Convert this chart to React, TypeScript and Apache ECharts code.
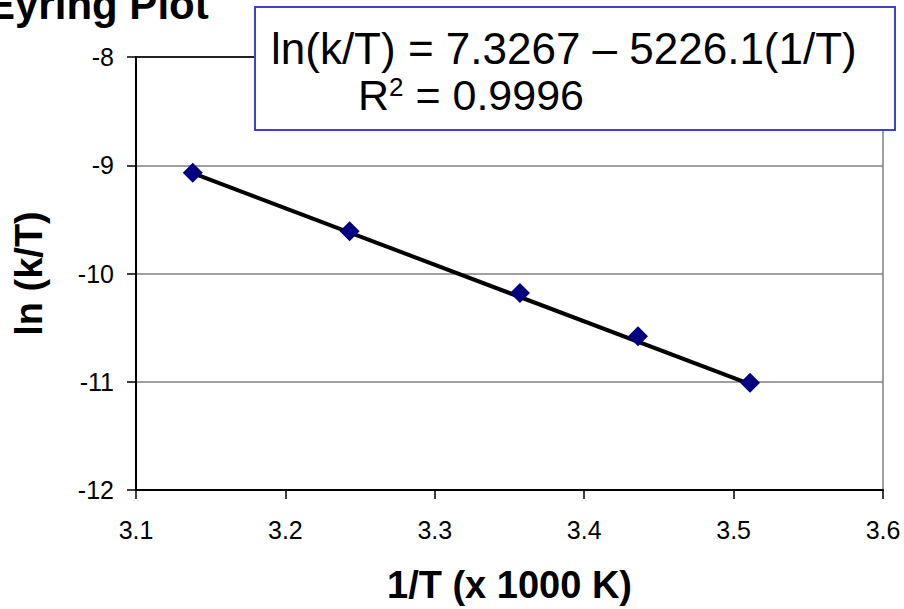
import React, { useEffect, useRef } from "react";
import * as echarts from "echarts";

const invT = [3.138, 3.243, 3.357, 3.436, 3.511];
const lnKT = [-9.07, -9.61, -10.18, -10.58, -11.01];
const trendX = [3.138, 3.511];
const trendY = [-9.073, -11.022];
const titleText = "Eyring Plot";
const equationText = "ln(k/T) = 7.3267 – 5226.1(1/T)";
const r2Text = "0.9996";
const xName = "1/T (x 1000 K)";
const yName = "ln (k/T)";

const FONT = "'Liberation Sans', Arial, sans-serif";

export default function App() {
  const ref = useRef<HTMLDivElement>(null);
  useEffect(() => {
    if (!ref.current) return;
    const chart = echarts.init(ref.current, null, { renderer: "svg" });
    chart.setOption({
      animation: false,
      backgroundColor: "#ffffff",
      grid: {
        left: 136,
        right: 21,
        top: 57,
        bottom: 118,
        show: true,
        borderColor: "#808080",
        borderWidth: 1.5,
      },
      xAxis: [
        {
          type: "value",
          min: 3.1,
          max: 3.6,
          interval: 0.1,
          name: xName,
          nameLocation: "middle",
          nameGap: 76,
          nameTextStyle: { fontFamily: FONT, fontWeight: "bold", fontSize: 38, color: "#000" },
          axisLine: { show: true, onZero: false, lineStyle: { color: "#000", width: 2 } },
          axisTick: { show: true, inside: false, length: 9, lineStyle: { color: "#000", width: 1.5 } },
          axisLabel: {
            margin: 27,
            fontFamily: FONT,
            fontSize: 25,
            color: "#000",
            formatter: (v: number) => v.toFixed(1),
          },
          splitLine: { show: false },
        },
        {
          type: "value",
          position: "top",
          min: 3.1,
          max: 3.6,
          interval: 0.1,
          axisLine: { show: true, onZero: false, lineStyle: { color: "#000", width: 1.5 } },
          axisTick: { show: false },
          axisLabel: { show: false },
          splitLine: { show: false },
        },
      ],
      yAxis: {
        type: "value",
        min: -12,
        max: -8,
        interval: 1,
        name: yName,
        nameLocation: "middle",
        nameRotate: 90,
        nameGap: 88,
        nameTextStyle: { fontFamily: FONT, fontWeight: "bold", fontSize: 38, color: "#000" },
        axisLine: { show: true, onZero: false, lineStyle: { color: "#000", width: 2 } },
        axisTick: { show: true, inside: false, length: 9, lineStyle: { color: "#000", width: 1.5 } },
        axisLabel: { margin: 22, fontFamily: FONT, fontSize: 25, color: "#000" },
        splitLine: { show: true, lineStyle: { color: "#808080", width: 1.5 } },
      },
      series: [
        {
          type: "line",
          xAxisIndex: 0,
          data: trendX.map((x, i) => [x, trendY[i]]),
          symbol: "none",
          lineStyle: { color: "#000", width: 4 },
          z: 2,
        },
        {
          type: "scatter",
          xAxisIndex: 0,
          data: invT.map((x, i) => [x, lnKT[i]]),
          symbol: "diamond",
          symbolSize: 20,
          itemStyle: { color: "#000080", opacity: 1 },
          z: 3,
        },
      ],
      graphic: [
        {
          type: "text",
          x: -13,
          y: 4,
          style: {
            text: titleText,
            font: `bold 42px ${FONT}`,
            fill: "#000",
            verticalAlign: "middle",
            align: "left",
          },
          z: 10,
        },
        {
          type: "rect",
          shape: { x: 255, y: 7, width: 640, height: 123 },
          style: { fill: "#ffffff", stroke: "#3f3fd0", lineWidth: 2 },
          z: 10,
        },
        {
          type: "text",
          x: 271,
          y: 48,
          style: {
            text: equationText,
            font: `44px ${FONT}`,
            fill: "#000",
            verticalAlign: "middle",
            align: "left",
          },
          z: 11,
        },
        {
          type: "text",
          x: 358,
          y: 95,
          style: {
            text: `{a|R}{s|2}{a| = ${r2Text}}`,
            verticalAlign: "middle",
            align: "left",
            rich: {
              a: { fontFamily: FONT, fontSize: 43, fill: "#000", color: "#000" },
              s: { fontFamily: FONT, fontSize: 26, fill: "#000", color: "#000", verticalAlign: "top" },
            },
          },
          z: 11,
        },
      ],
    });
    return () => chart.dispose();
  }, []);
  return <div ref={ref} style={{ width: 904, height: 609, position: "absolute", left: 0, top: 0 }} />;
}
